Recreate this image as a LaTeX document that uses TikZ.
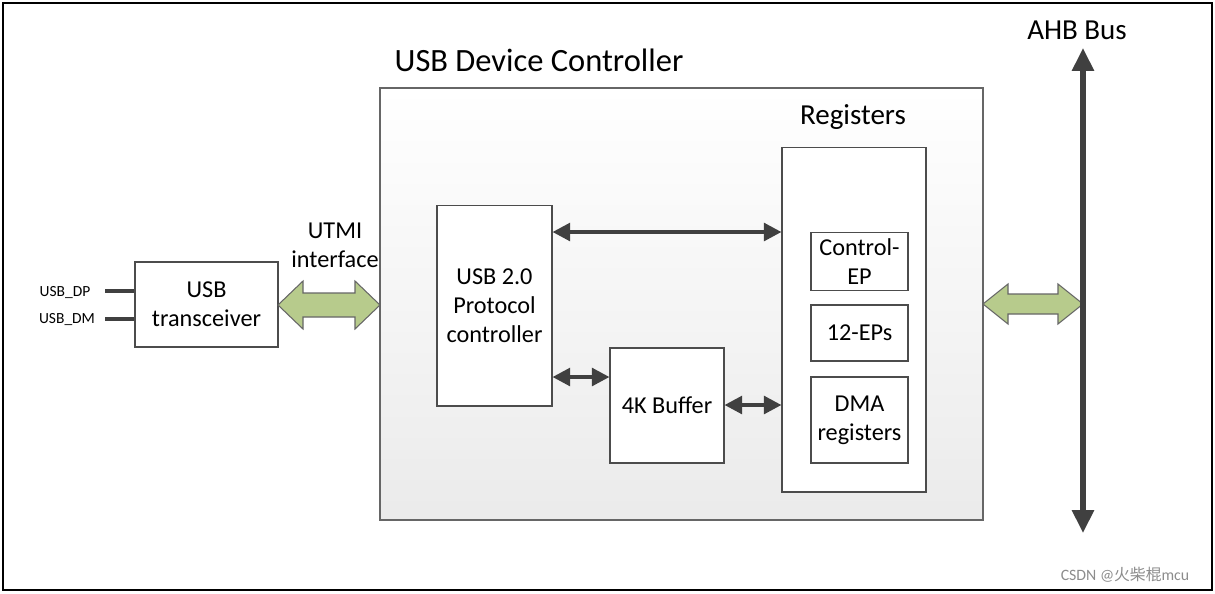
\documentclass[tikz,border=0pt]{standalone}
\usepackage{fontspec}
\setmainfont{Carlito}
\newfontfamily\cjkf{Noto Sans CJK SC}
\usetikzlibrary{arrows.meta}
\definecolor{gfill}{RGB}{183,203,140}
\begin{document}
\begin{tikzpicture}[x=0.02cm,y=-0.02cm,
  box/.style={draw=black!70,fill=white,line width=0.6pt},
  lbl/.style={font=\fontsize{13.8}{16.5}\selectfont,align=center},
  big/.style={font=\fontsize{16.5}{19}\selectfont},
  dar/.style={draw=black!75,line width=2.2pt,{Triangle[length=10pt,width=10pt]}-{Triangle[length=10pt,width=10pt]}},
  gr/.style={draw=black!60,fill=gfill,line width=0.6pt}]
\useasboundingbox (0,0) rectangle (1215,593);
\draw[line width=1pt] (3,3) rectangle (1212,590);
\node[font=\fontsize{18.5}{22}\selectfont] (title) at (539,60) {USB Device Controller};
\path[draw=black!60,line width=0.6pt,top color=white,bottom color=black!8] (380,88) rectangle (983,520);
\node[big] (reglbl) at (853,117) {Registers};
\node[box,minimum width=2.88cm,minimum height=6.9cm] (regs) at (854,319.5) {};
\node[box,lbl,minimum width=1.94cm,minimum height=1.14cm] (cep) at (859.5,261.5) {Control-\\EP};
\node[box,lbl,minimum width=1.94cm,minimum height=1.12cm] (eps) at (859.5,333) {12-EPs};
\node[box,lbl,minimum width=1.94cm,minimum height=1.72cm] (dma) at (859.5,420) {DMA\\registers};
\node[box,lbl,minimum width=2.3cm,minimum height=4.02cm] (proto) at (494.5,305.5) {USB 2.0\\Protocol\\controller};
\node[box,lbl,minimum width=2.28cm,minimum height=2.3cm] (buf) at (667,405.5) {4K Buffer};
\node[box,lbl,minimum width=2.86cm,minimum height=1.7cm] (trx) at (206.5,304.5) {USB\\transceiver};
\node[font=\fontsize{8.8}{10}\selectfont] (dp) at (65,293) {USB\_DP};
\node[font=\fontsize{8.8}{10}\selectfont] (dm) at (67,320) {USB\_DM};
\coordinate (dpe) at (105,291); \coordinate (dme) at (105,319);
\draw[line width=1.8pt,black!75] (dpe) -- (trx.west |- dpe);
\draw[line width=1.8pt,black!75] (dme) -- (trx.west |- dme);
\node[lbl] (utmi) at (335,245) {UTMI\\interface};
\draw[gr] (278,305) -- (303,281) -- (303,293) -- (355,293) -- (355,281) -- (380,305) -- (355,329) -- (355,317) -- (303,317) -- (303,329) -- cycle;
\draw[gr] (983,304) -- (1008,284) -- (1008,294) -- (1058,294) -- (1058,284) -- (1083,304) -- (1058,324) -- (1058,314) -- (1008,314) -- (1008,324) -- cycle;
\coordinate (ahbt) at (1083,48); \coordinate (ahbb) at (1083,533);
\draw[draw=black!75,line width=3pt,{Triangle[length=13pt,width=12pt]}-{Triangle[length=13pt,width=12pt]}] (ahbt) -- (ahbb);
\node[big] (ahb) at (1077,30) {AHB Bus};
\draw[dar] (proto.east |- 0,232) -- (regs.west |- 0,232);
\draw[dar] (proto.east |- 0,377) -- (buf.west |- 0,377);
\draw[dar] (buf.east |- 0,405) -- (regs.west |- 0,405);
\node[font=\fontsize{9}{11}\selectfont,text=black!45] (wm) at (1125,575) {CSDN @{\cjkf 火柴棍}mcu};
\end{tikzpicture}
\end{document}
